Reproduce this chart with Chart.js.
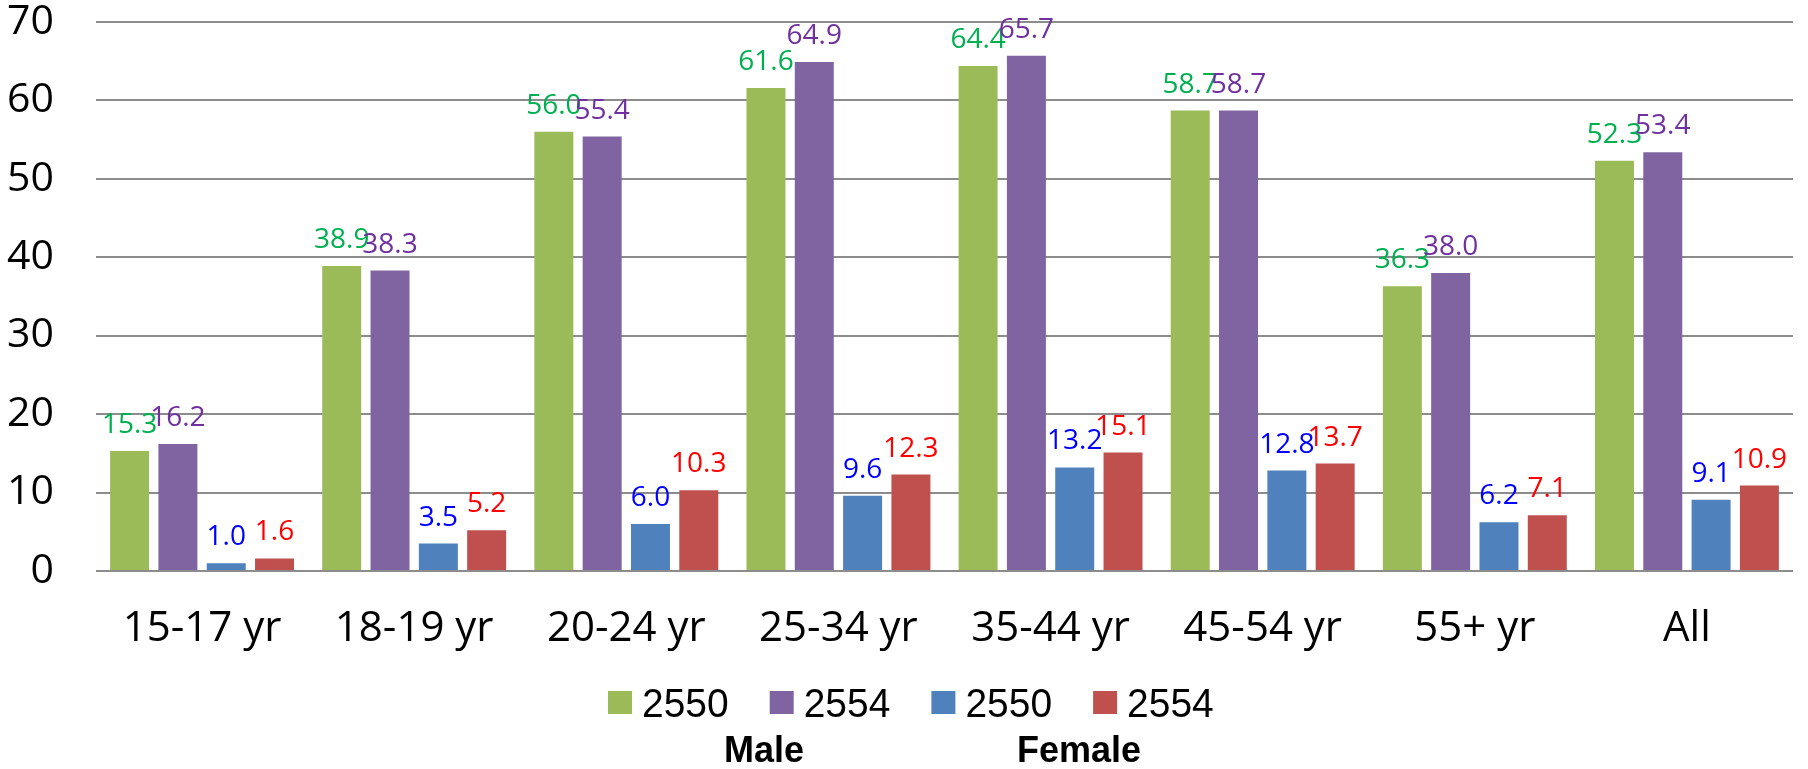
<!DOCTYPE html>
<html>
<head>
<meta charset="utf-8">
<title>Employment rate by age group</title>
<script src="https://cdn.jsdelivr.net/npm/chart.js@4/dist/chart.umd.min.js"></script>
<style>
  html, body { margin: 0; padding: 0; background: #fff; }
  #wrap { width: 1808px; height: 769px; }
</style>
</head>
<body>
<div id="wrap"><canvas id="chart" width="1808" height="769"></canvas></div>
<script>
// Age groups along the x axis
const categories = ['15-17 yr', '18-19 yr', '20-24 yr', '25-34 yr', '35-44 yr', '45-54 yr', '55+ yr', 'All'];

// Values per group (percent)
const male2550   = [15.3, 38.9, 56.0, 61.6, 64.4, 58.7, 36.3, 52.3];
const male2554   = [16.2, 38.3, 55.4, 64.9, 65.7, 58.7, 38.0, 53.4];
const female2550 = [1.0, 3.5, 6.0, 9.6, 13.2, 12.8, 6.2, 9.1];
const female2554 = [1.6, 5.2, 10.3, 12.3, 15.1, 13.7, 7.1, 10.9];

// Legend text
const seriesYears = ['2550', '2554', '2550', '2554'];
const groupNames = ['Male', 'Female'];

// Y axis range
const yTicks = [0, 10, 20, 30, 40, 50, 60, 70];

const barColors   = ['#9BBB59', '#8064A2', '#4F81BD', '#C0504D'];
const labelColors = ['#00B050', '#7030A0', '#0000FF', '#FF0000'];

// Value labels above each bar
const valueLabels = {
  id: 'valueLabels',
  afterDatasetsDraw(chart) {
    const ctx = chart.ctx;
    ctx.save();
    ctx.font = '28px "Open Sans"';
    ctx.textAlign = 'center';
    ctx.textBaseline = 'alphabetic';
    chart.data.datasets.forEach((ds, i) => {
      const meta = chart.getDatasetMeta(i);
      ctx.fillStyle = labelColors[i];
      meta.data.forEach((bar, j) => {
        ctx.fillText(ds.data[j].toFixed(1), bar.x, bar.y - 18);
      });
    });
    ctx.restore();
  }
};

// Legend row with the Male / Female captions underneath
const groupLegend = {
  id: 'groupLegend',
  afterDraw(chart) {
    const ctx = chart.ctx;
    const startX = 608, pitch = 161.7;
    ctx.save();
    chart.data.datasets.forEach((ds, i) => {
      const x = startX + i * pitch;
      ctx.fillStyle = ds.backgroundColor;
      ctx.fillRect(x, 691, 24, 23);
      ctx.save();
      ctx.translate(x + 34, 717);
      ctx.scale(0.95, 1);
      ctx.fillStyle = '#000';
      ctx.font = '41px "Liberation Sans"';
      ctx.textAlign = 'left';
      ctx.textBaseline = 'alphabetic';
      ctx.fillText(seriesYears[i], 0, 0);
      ctx.restore();
    });
    const centers = [764, 1079];
    ctx.fillStyle = '#000';
    ctx.font = 'bold 36px "Liberation Sans"';
    ctx.textAlign = 'center';
    ctx.textBaseline = 'alphabetic';
    groupNames.forEach((name, k) => {
      ctx.fillText(name, centers[k], 762);
    });
    ctx.restore();
  }
};

const seriesData = [male2550, male2554, female2550, female2554];

new Chart(document.getElementById('chart'), {
  type: 'bar',
  data: {
    labels: categories,
    datasets: seriesData.map((d, i) => ({
      label: seriesYears[i],
      data: d,
      backgroundColor: barColors[i],
      borderWidth: 0,
      categoryPercentage: 0.911,
      barPercentage: 0.807
    }))
  },
  options: {
    responsive: false,
    animation: false,
    devicePixelRatio: 1,
    layout: { padding: { top: 22, right: 15, bottom: 0, left: 0 } },
    plugins: {
      legend: { display: false },
      tooltip: { enabled: false },
      title: { display: false }
    },
    scales: {
      x: {
        grid: { display: false, drawTicks: false },
        border: { display: false },
        ticks: {
          color: '#000',
          font: { family: '"Open Sans"', size: 42 },
          padding: 33,
          maxRotation: 0,
          autoSkip: false
        },
        afterFit(scale) {
          scale.height = 198;
          scale.paddingLeft = 0;
          scale.paddingRight = 0;
        }
      },
      y: {
        min: yTicks[0],
        max: yTicks[yTicks.length - 1],
        afterBuildTicks(scale) { scale.ticks = yTicks.map(v => ({ value: v })); },
        grid: { color: '#8c8c8c', lineWidth: 2, drawTicks: false },
        border: { display: false },
        ticks: {
          color: '#000',
          font: { family: '"Open Sans"', size: 41 },
          padding: 42
        },
        afterFit(scale) {
          scale.width = 96;
          scale.paddingTop = 0;
          scale.paddingBottom = 0;
        }
      }
    }
  },
  plugins: [valueLabels, groupLegend]
});
</script>
</body>
</html>
